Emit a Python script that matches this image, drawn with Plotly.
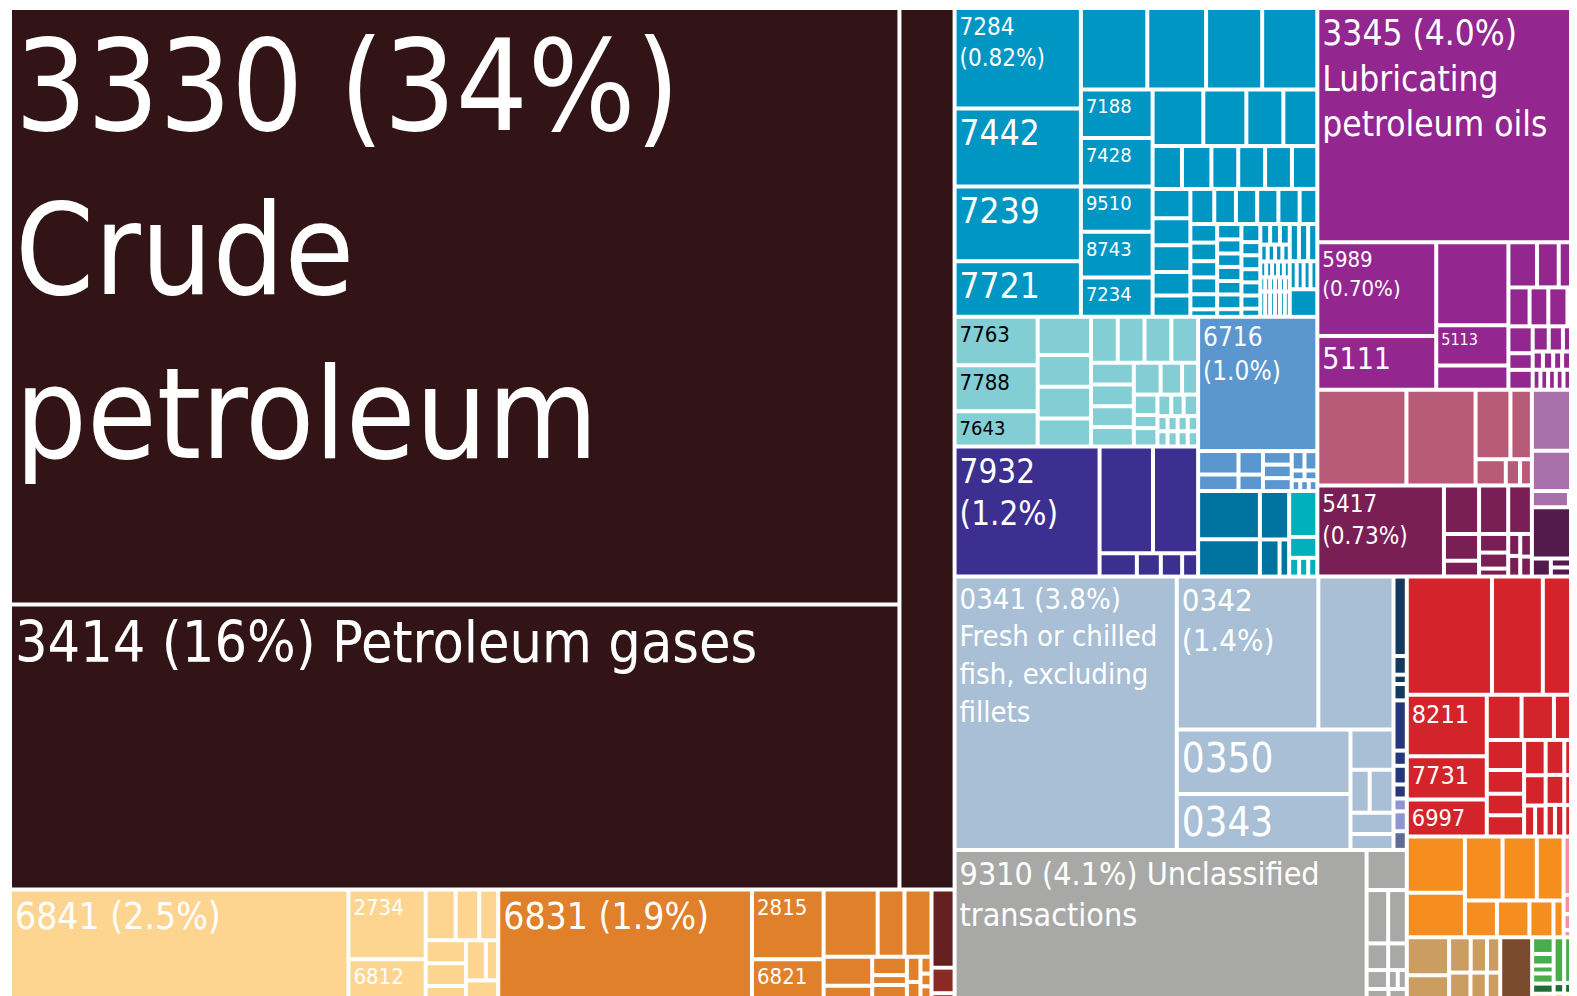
import plotly.graph_objects as go

# ---------------- DATA (share of total exports, %) ----------------
# rows: (id, parent, value, category) ; layout groups have value 0 and no category
fuel_rows = [
    ("Exports", "", 0, ""),
    ("A", "Exports", 0, ""),
    ("Mineral", "A", 0, ""),
    ("M1", "Mineral", 0, ""),
    ("3330", "M1", 34.144, "fuel"),
    ("3414", "M1", 16.325, "fuel"),
    ("3432", "Mineral", 3.129, "fuel"),
]

metal_rows = [
    ("BottomRow", "A", 0, ""),
    ("6841", "BottomRow", 2.537, "pale"),
    ("P2", "BottomRow", 0, ""),
    ("2734", "P2", 0.347, "pale"), ("6812", "P2", 0.232, "pale"),
    ("Ps", "BottomRow", 0, ""),
    ("Ps_top", "Ps", 0, ""),
    ("ps1", "Ps_top", 0.098, "pale"), ("ps2", "Ps_top", 0.077, "pale"), ("ps3", "Ps_top", 0.062, "pale"),
    ("Ps_bot", "Ps", 0, ""),
    ("Ps_a", "Ps_bot", 0, ""),
    ("ps4", "Ps_a", 0.060, "pale"), ("ps5", "Ps_a", 0.059, "pale"), ("ps6", "Ps_a", 0.052, "pale"),
    ("Ps_b", "Ps_bot", 0, ""),
    ("Ps_b1", "Ps_b", 0, ""),
    ("ps7", "Ps_b1", 0.051, "pale"), ("ps8", "Ps_b1", 0.032, "pale"),
    ("ps9", "Ps_b", 0.053, "pale"),
    ("6831", "BottomRow", 1.902, "orange_m"),
    ("O2", "BottomRow", 0, ""),
    ("2815", "O2", 0.322, "orange_m"), ("6821", "O2", 0.215, "orange_m"),
    ("Os", "BottomRow", 0, ""),
    ("Os_top", "Os", 0, ""),
    ("os1", "Os_top", 0.234, "orange_m"), ("os2", "Os_top", 0.116, "orange_m"), ("os3", "Os_top", 0.117, "orange_m"),
    ("Os_bot", "Os", 0, ""),
    ("Os_a", "Os_bot", 0, ""),
    ("os4", "Os_a", 0.091, "orange_m"), ("os5", "Os_a", 0.063, "orange_m"),
    ("Os_b", "Os_bot", 0, ""),
    ("os6", "Os_b", 0.041, "orange_m"), ("os7", "Os_b", 0.022, "orange_m"), ("os8", "Os_b", 0.047, "orange_m"),
    ("Os_c", "Os_bot", 0, ""),
    ("os9", "Os_c", 0.022, "orange_m"), ("os10", "Os_c", 0.021, "orange_m"),
    ("Os_d", "Os_bot", 0, ""),
    ("os11", "Os_d", 0.012, "orange_m"), ("os12", "Os_d", 0.009, "orange_m"), ("os13", "Os_d", 0.014, "orange_m"),
    ("DR", "BottomRow", 0, ""),
    ("dr1", "DR", 0.116, "darkred"), ("dr2", "DR", 0.038, "darkred2"), ("dr3", "DR", 0.019, "darkred2"),
]

machinery_rows = [
    ("B", "Exports", 0, ""),
    ("Btop", "B", 0, ""),
    ("Mach", "Btop", 0, ""),
    ("Blue", "Mach", 0, ""),
    ("Bc1", "Blue", 0, ""),
    ("7284", "Bc1", 0.817, "blue"), ("7442", "Bc1", 0.634, "blue"),
    ("7239", "Bc1", 0.607, "blue"), ("7721", "Bc1", 0.453, "blue"),
    ("Brest", "Blue", 0, ""),
    ("Btoprow", "Brest", 0, ""),
    ("b1", "Btoprow", 0.348, "blue"), ("b2", "Btoprow", 0.308, "blue"),
    ("b3", "Btoprow", 0.294, "blue"), ("b4", "Btoprow", 0.289, "blue"),
    ("Blower", "Brest", 0, ""),
    ("Bc7188", "Blower", 0, ""),
    ("7188", "Bc7188", 0.224, "blue"), ("7428", "Bc7188", 0.224, "blue"), ("9510", "Bc7188", 0.209, "blue"),
    ("8743", "Bc7188", 0.211, "blue"), ("7234", "Bc7188", 0.182, "blue"),
    ("Brest2", "Blower", 0, ""),
    ("Bra", "Brest2", 0, ""),
    ("ba1", "Bra", 0.185, "blue"), ("ba2", "Bra", 0.157, "blue"), ("ba3", "Bra", 0.135, "blue"), ("ba4", "Bra", 0.124, "blue"),
    ("Brb", "Brest2", 0, ""),
    ("bb1", "Brb", 0.081, "blue"), ("bb2", "Brb", 0.081, "blue"), ("bb3", "Brb", 0.074, "blue"),
    ("bb4", "Brb", 0.074, "blue"), ("bb5", "Brb", 0.074, "blue"), ("bb6", "Brb", 0.070, "blue"),
    ("BlowR", "Brest2", 0, ""),
    ("BcL", "BlowR", 0, ""),
    ("bl1", "BcL", 0.071, "blue"), ("bl2", "BcL", 0.066, "blue"), ("bl3", "BcL", 0.065, "blue"),
    ("bl4", "BcL", 0.057, "blue"), ("bl5", "BcL", 0.052, "blue"),
    ("BcR", "BlowR", 0, ""),
    ("Brc", "BcR", 0, ""),
    ("bc1", "Brc", 0.054, "blue"), ("bc2", "Brc", 0.049, "blue"), ("bc3", "Brc", 0.048, "blue"),
    ("bc4", "Brc", 0.048, "blue"), ("bc5", "Brc", 0.048, "blue"), ("bc6", "Brc", 0.040, "blue"),
    ("Bdense", "BcR", 0, ""),
    ("Bd1", "Bdense", 0, ""),
    ("d1a", "Bd1", 0.032, "blue"), ("d1b", "Bd1", 0.032, "blue"), ("d1c", "Bd1", 0.028, "blue"),
    ("d1d", "Bd1", 0.029, "blue"), ("d1e", "Bd1", 0.026, "blue"), ("d1f", "Bd1", 0.013, "blue"),
    ("Bd2", "Bdense", 0, ""),
    ("d2a", "Bd2", 0.024, "blue"), ("d2b", "Bd2", 0.022, "blue"), ("d2c", "Bd2", 0.021, "blue"),
    ("d2d", "Bd2", 0.022, "blue"), ("d2e", "Bd2", 0.021, "blue"), ("d2f", "Bd2", 0.023, "blue"), ("d2g", "Bd2", 0.012, "blue"),
    ("Bd3", "Bdense", 0, ""),
    ("d3a", "Bd3", 0.022, "blue"), ("d3b", "Bd3", 0.016, "blue"), ("d3c", "Bd3", 0.017, "blue"),
    ("d3d", "Bd3", 0.016, "blue"), ("d3e", "Bd3", 0.016, "blue"), ("d3f", "Bd3", 0.016, "blue"), ("d3g", "Bd3", 0.010, "blue"),
    ("Bd4", "Bdense", 0, ""),
    ("Bd4r1", "Bd4", 0, ""),
    ("d4a1", "Bd4r1", 0.013, "blue"), ("d4a2", "Bd4r1", 0.013, "blue"), ("d4a3", "Bd4r1", 0.013, "blue"),
    ("Bd4r2", "Bd4", 0, ""),
    ("d4b1", "Bd4r2", 0.008, "blue"), ("d4b2", "Bd4r2", 0.008, "blue"), ("d4b3", "Bd4r2", 0.008, "blue"), ("d4b4", "Bd4r2", 0.008, "blue"),
    ("Bd4r3", "Bd4", 0, ""),
    ("d4c1", "Bd4r3", 0.006, "blue"), ("d4c2", "Bd4r3", 0.006, "blue"), ("d4c3", "Bd4r3", 0.006, "blue"),
    ("d4c4", "Bd4r3", 0.006, "blue"), ("d4c5", "Bd4r3", 0.006, "blue"),
    ("Bd4r4", "Bd4", 0, ""),
    ("d4d1", "Bd4r4", 0.0045, "blue"), ("d4d2", "Bd4r4", 0.0045, "blue"), ("d4d3", "Bd4r4", 0.0045, "blue"),
    ("d4d4", "Bd4r4", 0.0045, "blue"), ("d4d5", "Bd4r4", 0.0045, "blue"), ("d4d6", "Bd4r4", 0.0044, "blue"),
    ("Bd4r5", "Bd4", 0, ""),
    ("d4e1", "Bd4r5", 0.008, "blue"), ("d4e2", "Bd4r5", 0.008, "blue"), ("d4e3", "Bd4r5", 0.008, "blue"),
    ("d4e4", "Bd4r5", 0.008, "blue"), ("d4e5", "Bd4r5", 0.008, "blue"), ("d4e6", "Bd4r5", 0.008, "blue"),
    ("Bd5", "Bdense", 0, ""),
    ("Bd5r1", "Bd5", 0, ""),
    ("d5a1", "Bd5r1", 0.022, "blue"), ("d5a2", "Bd5r1", 0.022, "blue"), ("d5a3", "Bd5r1", 0.022, "blue"),
    ("Bd5r2", "Bd5", 0, ""),
    ("d5b1", "Bd5r2", 0.0125, "blue"), ("d5b2", "Bd5r2", 0.0125, "blue"), ("d5b3", "Bd5r2", 0.0125, "blue"), ("d5b4", "Bd5r2", 0.0123, "blue"),
    ("d5c", "Bd5", 0.049, "blue"),
    # middle band
    ("Mid", "Mach", 0, ""),
    ("LMid", "Mid", 0, ""),
    ("Teal", "LMid", 0, ""),
    ("Tc1", "Teal", 0, ""),
    ("7763", "Tc1", 0.259, "teal"), ("7788", "Tc1", 0.245, "teal"), ("7643", "Tc1", 0.189, "teal"),
    ("Tc2", "Teal", 0, ""),
    ("t2a", "Tc2", 0.131, "teal"), ("t2b", "Tc2", 0.109, "teal"), ("t2c", "Tc2", 0.109, "teal"), ("t2d", "Tc2", 0.096, "teal"),
    ("Tc3", "Teal", 0, ""),
    ("Tc3top", "Tc3", 0, ""),
    ("t3a", "Tc3top", 0.079, "teal"), ("t3b", "Tc3top", 0.079, "teal"), ("t3c", "Tc3top", 0.079, "teal"), ("t3d", "Tc3top", 0.079, "teal"),
    ("Tc3bot", "Tc3", 0, ""),
    ("Tc3a", "Tc3bot", 0, ""),
    ("t4a", "Tc3a", 0.060, "teal"), ("t4b", "Tc3a", 0.060, "teal"), ("t4c", "Tc3a", 0.057, "teal"), ("t4d", "Tc3a", 0.054, "teal"),
    ("Tc3b", "Tc3bot", 0, ""),
    ("Tc3b_row", "Tc3b", 0, ""),
    ("t5a", "Tc3b_row", 0.055, "teal"), ("t5b", "Tc3b_row", 0.044, "teal"), ("t5c", "Tc3b_row", 0.033, "teal"),
    ("Tc3b_rest", "Tc3b", 0, ""),
    ("Tc3b_x1", "Tc3b_rest", 0, ""),
    ("t6a", "Tc3b_x1", 0.031, "teal"), ("t6b", "Tc3b_x1", 0.020, "teal"), ("t6c", "Tc3b_x1", 0.028, "teal"),
    ("Tc3b_x2", "Tc3b_rest", 0, ""),
    ("Tc3b_x2r", "Tc3b_x2", 0, ""),
    ("t7a", "Tc3b_x2r", 0.019, "teal"), ("t7b", "Tc3b_x2r", 0.017, "teal"), ("t7c", "Tc3b_x2r", 0.020, "teal"),
    ("Tc3b_x2s", "Tc3b_x2", 0, ""),
    ("Ts1", "Tc3b_x2s", 0, ""), ("t8a", "Ts1", 0.0099, "teal"), ("t8b", "Ts1", 0.0099, "teal"),
    ("Ts2", "Tc3b_x2s", 0, ""), ("t8c", "Ts2", 0.0099, "teal"), ("t8d", "Ts2", 0.0099, "teal"),
    ("Ts3", "Tc3b_x2s", 0, ""), ("t8e", "Ts3", 0.0099, "teal"), ("t8f", "Ts3", 0.0099, "teal"),
    ("Ts4", "Tc3b_x2s", 0, ""), ("t8g", "Ts4", 0.0102, "teal"), ("t8h", "Ts4", 0.0102, "teal"),
    ("Purp", "LMid", 0, ""),
    ("7932", "Purp", 1.214, "ship"),
    ("Pr", "Purp", 0, ""),
    ("Pr_top", "Pr", 0, ""),
    ("pr1", "Pr_top", 0.367, "ship"), ("pr2", "Pr_top", 0.310, "ship"),
    ("Pr_bot", "Pr", 0, ""),
    ("pr3", "Pr_bot", 0.056, "ship"), ("pr4", "Pr_bot", 0.036, "ship"), ("pr5", "Pr_bot", 0.032, "ship"), ("pr6", "Pr_bot", 0.024, "ship"),
    ("RMid", "Mid", 0, ""),
    ("6716", "RMid", 1.030, "ltblue"),
    ("LB", "RMid", 0, ""),
    ("LB1", "LB", 0, ""), ("lb1", "LB1", 0.061, "ltblue"), ("lb2", "LB1", 0.043, "ltblue"),
    ("LB2", "LB", 0, ""), ("lb3", "LB2", 0.037, "ltblue"), ("lb4", "LB2", 0.026, "ltblue"),
    ("LB3", "LB", 0, ""), ("lb5", "LB3", 0.025, "ltblue"), ("lb6", "LB3", 0.025, "ltblue"), ("lb7", "LB3", 0.024, "ltblue"),
    ("LB4", "LB", 0, ""),
    ("LB4a", "LB4", 0, ""), ("lb8", "LB4a", 0.016, "ltblue"), ("lb9", "LB4a", 0.016, "ltblue"),
    ("LB4b", "LB4", 0, ""), ("lb10", "LB4b", 0.008, "ltblue"), ("lb11", "LB4b", 0.008, "ltblue"),
    ("LB4c", "LB4", 0, ""), ("lb12", "LB4c", 0.006, "ltblue"), ("lb13", "LB4c", 0.006, "ltblue"), ("lb14", "LB4c", 0.006, "ltblue"),
    ("DT", "RMid", 0, ""),
    ("DT1", "DT", 0, ""), ("dt1", "DT1", 0.192, "dkteal"), ("dt2", "DT1", 0.148, "dkteal"),
    ("DT2", "DT", 0, ""), ("dt3", "DT2", 0.091, "dkteal"),
    ("DT2b", "DT2", 0, ""), ("dt4", "DT2b", 0.047, "dkteal"), ("dt5", "DT2b", 0.023, "dkteal"),
    ("DT3", "DT", 0, ""), ("cy1", "DT3", 0.083, "cyan"), ("cy2", "DT3", 0.038, "cyan"),
    ("DT3c", "DT3", 0, ""), ("cy3", "DT3c", 0.012, "cyan"), ("cy4", "DT3c", 0.011, "cyan"), ("cy5", "DT3c", 0.011, "cyan"),
]

chemical_rows = [
    ("Chem", "Btop", 0, ""),
    ("3345", "Chem", 4.067, "chem"),
    ("ChR", "Chem", 0, ""),
    ("C1", "ChR", 0, ""), ("5989", "C1", 0.718, "chem"), ("5111", "C1", 0.410, "chem"),
    ("C2", "ChR", 0, ""), ("c2a", "C2", 0.386, "chem"), ("5113", "C2", 0.187, "chem"), ("c2c", "C2", 0.112, "chem"),
    ("C3", "ChR", 0, ""),
    ("C3r1", "C3", 0, ""), ("c3a", "C3r1", 0.083, "chem"), ("c3b", "C3r1", 0.063, "chem"), ("c3c", "C3r1", 0.082, "chem"),
    ("C3r2", "C3", 0, ""), ("c3d", "C3r2", 0.053, "chem"), ("c3e", "C3r2", 0.047, "chem"),
    ("c3f", "C3r2", 0.048, "chem"), ("c3g", "C3r2", 0.049, "chem"),
    ("C3r3", "C3", 0, ""),
    ("C3r3a", "C3r3", 0, ""), ("c3h", "C3r3a", 0.042, "chem"), ("c3i", "C3r3a", 0.026, "chem"), ("c3j", "C3r3a", 0.031, "chem"),
    ("C3r3b", "C3r3", 0, ""),
    ("C3r3b1", "C3r3b", 0, ""), ("c3k", "C3r3b1", 0.026, "chem"), ("c3l", "C3r3b1", 0.023, "chem"), ("c3m", "C3r3b1", 0.039, "chem"),
    ("C3r3b2", "C3r3b", 0, ""), ("c3n", "C3r3b2", 0.012, "chem"), ("c3o", "C3r3b2", 0.012, "chem"),
    ("c3p", "C3r3b2", 0.0105, "chem"), ("c3q", "C3r3b2", 0.0105, "chem"), ("c3r", "C3r3b2", 0.0187, "chem"),
    ("C3r3b3", "C3r3b", 0, ""), ("c3s", "C3r3b3", 0.0099, "chem"), ("c3t", "C3r3b3", 0.0099, "chem"),
    ("c3u", "C3r3b3", 0.0099, "chem"), ("c3v", "C3r3b3", 0.0099, "chem"), ("c3w", "C3r3b3", 0.0099, "chem"), ("c3x", "C3r3b3", 0.0203, "chem"),
    ("Pk", "Chem", 0, ""),
    ("PkL", "Pk", 0, ""),
    ("PinkRow", "PkL", 0, ""),
    ("pk1", "PinkRow", 0.549, "pink"), ("pk2", "PinkRow", 0.426, "pink"),
    ("Pk3", "PinkRow", 0, ""),
    ("Pk3t", "Pk3", 0, ""), ("pk3", "Pk3t", 0.156, "pink"), ("pk4", "Pk3t", 0.096, "pink"),
    ("Pk3b", "Pk3", 0, ""), ("pk5", "Pk3b", 0.051, "pink"), ("pk6", "Pk3b", 0.024, "pink"), ("pk7", "Pk3b", 0.020, "pink"),
    ("PlumRow", "PkL", 0, ""),
    ("5417", "PlumRow", 0.743, "plum"),
    ("Pl2", "PlumRow", 0, ""), ("pl1", "Pl2", 0.110, "plum"), ("pl2", "Pl2", 0.060, "plum"), ("pl3", "Pl2", 0.036, "plum"),
    ("Pl3", "PlumRow", 0, ""), ("pl4", "Pl3", 0.091, "plum"), ("pl5", "Pl3", 0.035, "plum"),
    ("pl6", "Pl3", 0.030, "plum"), ("pl7", "Pl3", 0.015, "plum"),
    ("Pl4", "PlumRow", 0, ""), ("pl8", "Pl4", 0.074, "plum"),
    ("Pl4b", "Pl4", 0, ""),
    ("Pl4b1", "Pl4b", 0, ""), ("pl9", "Pl4b1", 0.017, "plum"), ("pl10", "Pl4b1", 0.016, "plum"),
    ("Pl4b2", "Pl4b", 0, ""), ("pl11", "Pl4b2", 0.017, "plum"), ("pl12", "Pl4b2", 0.015, "plum"),
    ("Lil", "Pk", 0, ""),
    ("li1", "Lil", 0.217, "lilac"), ("li2", "Lil", 0.142, "lilac"),
    ("Lil3", "Lil", 0, ""), ("li3", "Lil3", 0.039, "lilac"), ("li4", "Lil3", 0.019, "lilac"),
    ("dp1", "Lil", 0.182, "dkplum"),
    ("Lil5", "Lil", 0, ""), ("dp2", "Lil5", 0.022, "dkplum"),
    ("Lil5b", "Lil5", 0, ""), ("dp3", "Lil5b", 0.021, "dkplum"), ("dp4", "Lil5b", 0.021, "dkplum"),
]

food_rows = [
    ("Bbot", "B", 0, ""),
    ("FG", "Bbot", 0, ""),
    ("Fish", "FG", 0, ""),
    ("0341", "Fish", 3.908, "fish"),
    ("FB", "Fish", 0, ""),
    ("FBtop", "FB", 0, ""), ("0342", "FBtop", 1.395, "fish"), ("f1", "FBtop", 0.740, "fish"),
    ("FBbot", "FB", 0, ""),
    ("FBc1", "FBbot", 0, ""), ("0350", "FBc1", 0.719, "fish"), ("0343", "FBc1", 0.626, "fish"),
    ("FBc2", "FBbot", 0, ""), ("f2", "FBc2", 0.111, "fish"),
    ("FBc2b", "FBc2", 0, ""), ("f3", "FBc2b", 0.053, "fish"), ("f4", "FBc2b", 0.066, "fish"),
    ("f5", "FBc2", 0.059, "fish"), ("f6", "FBc2", 0.044, "fish"),
    ("Navy", "Fish", 0, ""),
    ("n1", "Navy", 0.068, "navy1"), ("n2", "Navy", 0.016, "navy1"), ("n3", "Navy", 0.008, "navy1"), ("n4", "Navy", 0.014, "navy1"),
    ("n5", "Navy", 0.043, "navy2"), ("n6", "Navy", 0.013, "navy2"), ("n7", "Navy", 0.016, "navy2"), ("n8", "Navy", 0.012, "navy2"),
    ("n9", "Navy", 0.011, "lavender"), ("n10", "Navy", 0.017, "lavender"), ("n11", "Navy", 0.016, "greyblue"),
]

other_rows = [
    ("Grey", "FG", 0, ""),
    ("9310", "Grey", 4.140, "grey"),
    ("GC", "Grey", 0, ""),
    ("g1", "GC", 0.104, "grey"),
    ("GCr2", "GC", 0, ""), ("g2", "GCr2", 0.074, "grey"), ("g3", "GCr2", 0.064, "grey"),
    ("GCr3", "GC", 0, ""), ("g4", "GCr3", 0.037, "grey"), ("g5", "GCr3", 0.032, "grey"),
    ("GCr4", "GC", 0, ""), ("g6", "GCr4", 0.026, "grey"), ("g7", "GCr4", 0.012, "grey"), ("g8", "GCr4", 0.011, "grey"),
    ("GCr5", "GC", 0, ""), ("g9", "GCr5", 0.024, "grey"), ("g10", "GCr5", 0.020, "grey"),
    ("RC", "Bbot", 0, ""),
    ("RT", "RC", 0, ""),
    ("r1", "RT", 0.648, "red"), ("r2", "RT", 0.387, "red"), ("r3", "RT", 0.336, "red"),
    ("RB", "RC", 0, ""),
    ("RBc1", "RB", 0, ""), ("8211", "RBc1", 0.317, "red"), ("7731", "RBc1", 0.222, "red"), ("6997", "RBc1", 0.191, "red"),
    ("RBr", "RB", 0, ""),
    ("RBr_row", "RBr", 0, ""), ("r4", "RBr_row", 0.101, "red"), ("r5", "RBr_row", 0.094, "red"), ("r6", "RBr_row", 0.096, "red"),
    ("RBr_rest", "RBr", 0, ""),
    ("Rq1", "RBr_rest", 0, ""), ("r7", "Rq1", 0.072, "red"), ("r8", "Rq1", 0.057, "red"), ("r9", "Rq1", 0.052, "red"), ("r10", "Rq1", 0.051, "red"),
    ("Rq2", "RBr_rest", 0, ""), ("r11", "Rq2", 0.049, "red"), ("r12", "Rq2", 0.042, "red"),
    ("Rq2c", "Rq2", 0, ""), ("r13", "Rq2c", 0.022, "red"), ("r14", "Rq2c", 0.021, "red"),
    ("Rq3", "RBr_rest", 0, ""), ("r15", "Rq3", 0.042, "red"), ("r16", "Rq3", 0.036, "red"),
    ("Rq3c", "Rq3", 0, ""), ("r17", "Rq3c", 0.019, "red"), ("r18", "Rq3c", 0.019, "red"),
    ("Rq4", "RBr_rest", 0, ""),
    ("Rq4a", "Rq4", 0, ""), ("r19", "Rq4a", 0.0257, "red"), ("r20", "Rq4a", 0.0257, "red"),
    ("r21", "Rq4", 0.044, "red"),
    ("Rq4c", "Rq4", 0, ""), ("r22", "Rq4c", 0.023, "red"), ("r23", "Rq4c", 0.023, "red"),
    ("OP", "RC", 0, ""),
    ("OC1", "OP", 0, ""), ("o1", "OC1", 0.210, "orange"), ("o2", "OC1", 0.167, "orange"),
    ("OR", "OP", 0, ""),
    ("ORt", "OR", 0, ""), ("o3", "ORt", 0.155, "orange"), ("o4", "ORt", 0.141, "orange"), ("o5", "ORt", 0.110, "orange"),
    ("ORb", "OR", 0, ""), ("o6", "ORb", 0.076, "orange"), ("o7", "ORb", 0.077, "orange"),
    ("o8", "ORb", 0.057, "orange"), ("o9", "ORb", 0.024, "orange"),
    ("PinkC", "OP", 0, ""), ("p1", "PinkC", 0.088, "pinkl"), ("p2", "PinkC", 0.029, "pinkl"),
    ("p3", "PinkC", 0.024, "pinkl"), ("p4", "PinkC", 0.011, "pinkl"),
    ("TBG", "RC", 0, ""),
    ("TanC1", "TBG", 0, ""), ("tn1", "TanC1", 0.103, "tan"), ("tn2", "TanC1", 0.084, "tan"),
    ("TanC2", "TBG", 0, ""),
    ("TanC2a", "TanC2", 0, ""), ("tn3", "TanC2a", 0.049, "tan"), ("tn4", "TanC2a", 0.037, "tan"), ("tn5", "TanC2a", 0.030, "tan"),
    ("TanC2b", "TanC2", 0, ""), ("tn6", "TanC2b", 0.046, "tan"), ("tn7", "TanC2b", 0.035, "tan"), ("tn8", "TanC2b", 0.029, "tan"),
    ("br1", "TBG", 0.141, "brown"),
    ("G1", "TBG", 0, ""), ("gr1", "G1", 0.023, "green"), ("gr2", "G1", 0.016, "green"), ("gr3", "G1", 0.011, "green"),
    ("gr4", "G1", 0.014, "green"), ("dg1", "G1", 0.014, "dkgreen"), ("y1", "G1", 0.017, "yellow"),
    ("G2a", "TBG", 0, ""), ("gr5", "G2a", 0.031, "green"), ("dg2", "G2a", 0.007, "dkgreen"), ("y2", "G2a", 0.0085, "yellow"),
    ("G2b", "TBG", 0, ""), ("gr6", "G2b", 0.067, "green"), ("dg3", "G2b", 0.016, "dkgreen"), ("y3", "G2b", 0.018, "yellow"),
]

tile_labels = {
    "3330": "3330 (34%)<br>Crude<br>petroleum",
    "3414": "3414 (16%) Petroleum gases",
    "6841": "6841 (2.5%)", "2734": "2734", "6812": "6812",
    "6831": "6831 (1.9%)", "2815": "2815", "6821": "6821",
    "7284": "7284<br>(0.82%)", "7442": "7442", "7239": "7239", "7721": "7721",
    "7188": "7188", "7428": "7428", "9510": "9510", "8743": "8743", "7234": "7234",
    "7763": "7763", "7788": "7788", "7643": "7643",
    "6716": "6716<br>(1.0%)", "7932": "7932<br>(1.2%)",
    "3345": "3345 (4.0%)<br>Lubricating<br>petroleum oils",
    "5989": "5989<br>(0.70%)", "5111": "5111", "5113": "5113", "5417": "5417<br>(0.73%)",
    "0341": "0341 (3.8%)<br>Fresh or chilled<br>fish, excluding<br>fillets",
    "0342": "0342<br>(1.4%)", "0350": "0350", "0343": "0343",
    "9310": "9310 (4.1%) Unclassified<br>transactions",
    "8211": "8211", "7731": "7731", "6997": "6997",
}

# ---------------- STYLE ----------------
category_colors = {
    "fuel": "#321416", "pale": "#FDD591", "orange_m": "#E1802A",
    "darkred": "#65211F", "darkred2": "#8A2A24",
    "blue": "#0096C3", "teal": "#83CED5", "ltblue": "#5B97CE", "ship": "#3D2F8F",
    "dkteal": "#0073A1", "cyan": "#00B1BC",
    "chem": "#93278F", "pink": "#B85B78", "plum": "#7A1F55", "lilac": "#A870AA", "dkplum": "#531B4C",
    "fish": "#A8BFD6", "navy1": "#133A5E", "navy2": "#263779", "lavender": "#8D95D2", "greyblue": "#5F6C93",
    "grey": "#A8A9A7", "red": "#D2242A", "orange": "#F68E1F", "pinkl": "#F4919B",
    "tan": "#CC9D60", "brown": "#7A4B2E", "green": "#46AE4A", "dkgreen": "#1E6B36", "yellow": "#FDC325",
}
label_sizes = {
    "3330": 126, "3414": 57, "6841": 37, "2734": 22, "6812": 22, "6831": 37, "2815": 22, "6821": 22,
    "7284": 24, "7442": 35, "7239": 35, "7721": 35,
    "7188": 20, "7428": 20, "9510": 20, "8743": 20, "7234": 20,
    "7763": 22, "7788": 22, "7643": 20, "6716": 26, "7932": 33,
    "3345": 35, "5989": 22, "5111": 30, "5113": 16, "5417": 24,
    "0341": 29, "0342": 31, "0350": 40, "0343": 40, "9310": 32,
    "8211": 25, "7731": 25, "6997": 25,
}
dark_label_ids = {"7763", "7788", "7643"}
FONT = "Liberation Sans Narrow, Arial Narrow, DejaVu Sans Condensed, Roboto Condensed, sans-serif"

rows = fuel_rows + metal_rows + machinery_rows + chemical_rows + food_rows + other_rows
ids = [r[0] for r in rows]
parents = [r[1] for r in rows]
values = [r[2] for r in rows]
colors = [category_colors.get(r[3], "#ffffff") for r in rows]
texts = [tile_labels.get(i, "") for i in ids]
sizes = [label_sizes.get(i, 12) for i in ids]
font_colors = ["#000000" if i in dark_label_ids else "#ffffff" for i in ids]

font = dict(family=FONT, size=sizes, color=font_colors)
fig = go.Figure(go.Treemap(
    ids=ids, labels=ids, parents=parents, values=values,
    branchvalues="remainder", sort=False,
    text=texts, texttemplate="%{text}", textposition="top left",
    textfont=font, insidetextfont=font,
    marker=dict(colors=colors, line=dict(width=0, color="#ffffff"),
                pad=dict(t=0, l=0, r=0, b=0)),
    tiling=dict(packing="slice-dice", pad=4),
    pathbar=dict(visible=False),
    hovertemplate="%{label}: %{value:.2f}%<extra></extra>",
))
fig.update_layout(width=1577, height=996, margin=dict(l=4, r=0, t=2, b=0),
                  paper_bgcolor="#ffffff")
fig.write_html("out.html")
